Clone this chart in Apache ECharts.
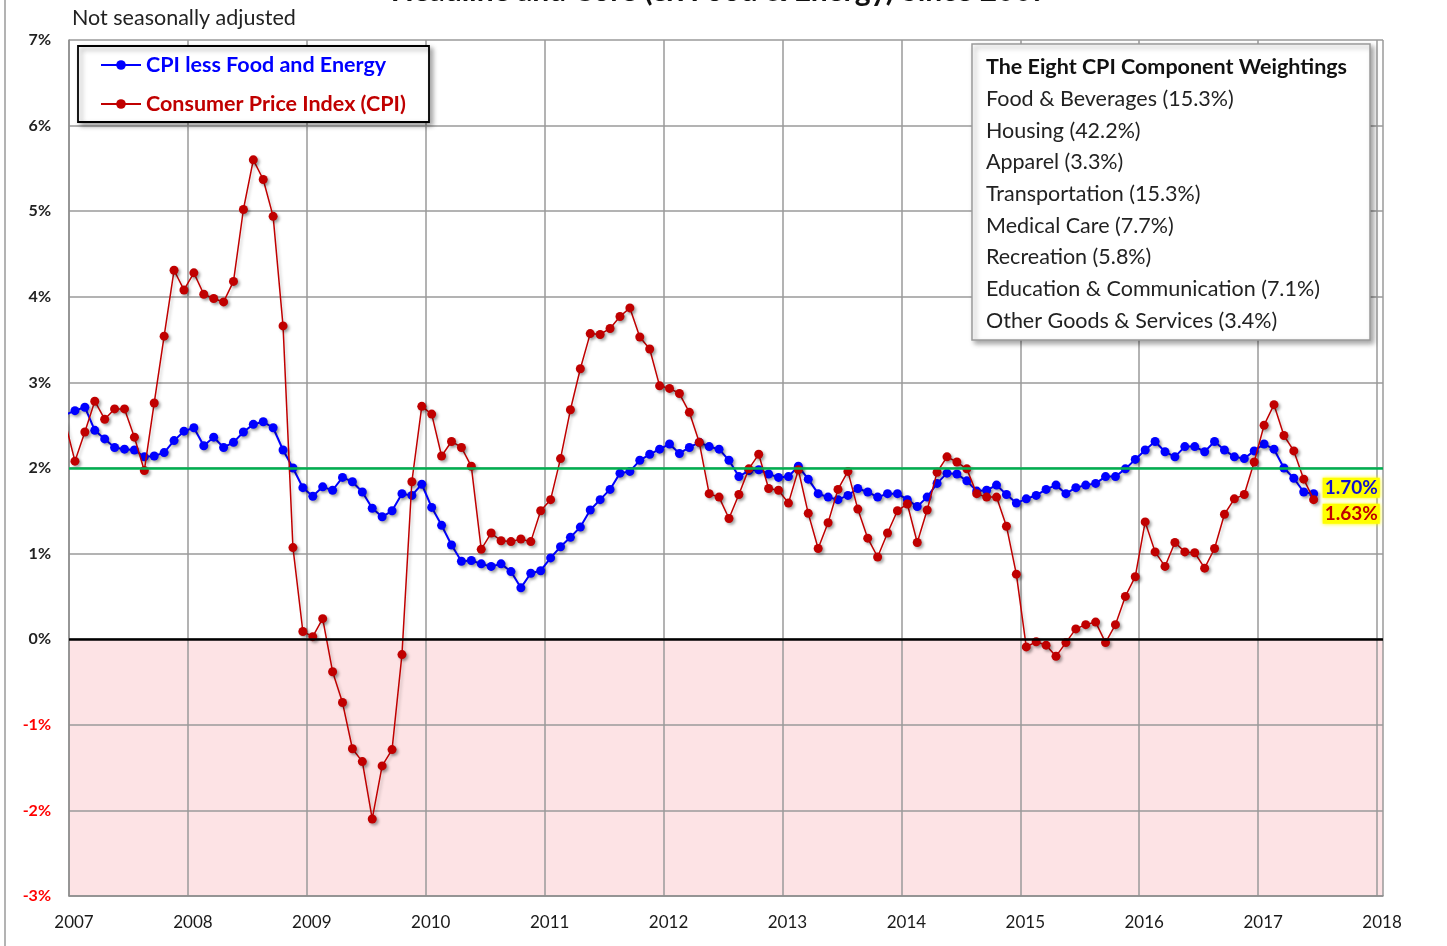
<!DOCTYPE html>
<html>
<head>
<meta charset="utf-8">
<script src="https://cdn.jsdelivr.net/npm/echarts@6/dist/echarts.min.js"></script>
<style>
html,body{margin:0;padding:0;background:#fff;}
#chart{width:1447px;height:946px;}
</style>
</head>
<body>
<div id="chart"></div>
<script>
// Monthly observations, Dec 2006 .. Jun 2017
const startYear = 2006;
const startMonth = 12; // December
const coreCPI = [
  2.62,
  2.67, 2.71, 2.44, 2.34, 2.24, 2.22, 2.21, 2.13, 2.14, 2.18, 2.32, 2.43,
  2.47, 2.26, 2.36, 2.24, 2.30, 2.42, 2.51, 2.54, 2.47, 2.21, 2.00, 1.77,
  1.67, 1.78, 1.74, 1.89, 1.84, 1.72, 1.53, 1.43, 1.50, 1.70, 1.68, 1.81,
  1.54, 1.33, 1.10, 0.91, 0.92, 0.88, 0.85, 0.88, 0.79, 0.60, 0.77, 0.80,
  0.95, 1.08, 1.19, 1.31, 1.51, 1.63, 1.75, 1.94, 1.96, 2.09, 2.16, 2.22,
  2.28, 2.17, 2.24, 2.30, 2.25, 2.22, 2.09, 1.90, 1.97, 1.98, 1.93, 1.89,
  1.90, 2.02, 1.87, 1.70, 1.66, 1.63, 1.68, 1.76, 1.72, 1.66, 1.70, 1.70,
  1.63, 1.55, 1.66, 1.82, 1.94, 1.93, 1.85, 1.73, 1.74, 1.80, 1.69, 1.59,
  1.64, 1.68, 1.75, 1.80, 1.70, 1.77, 1.80, 1.82, 1.90, 1.90, 1.99, 2.10,
  2.21, 2.31, 2.19, 2.13, 2.25, 2.25, 2.19, 2.31, 2.21, 2.13, 2.11, 2.20,
  2.28, 2.22, 2.00, 1.88, 1.72, 1.70
];
const headlineCPI = [
  2.54,
  2.08, 2.42, 2.78, 2.57, 2.69, 2.69, 2.36, 1.97, 2.76, 3.54, 4.31, 4.08,
  4.28, 4.03, 3.98, 3.94, 4.18, 5.02, 5.60, 5.37, 4.94, 3.66, 1.07, 0.09,
  0.03, 0.24, -0.38, -0.74, -1.28, -1.43, -2.10, -1.48, -1.29, -0.18, 1.84, 2.72,
  2.63, 2.14, 2.31, 2.24, 2.02, 1.05, 1.24, 1.15, 1.14, 1.17, 1.14, 1.50,
  1.63, 2.11, 2.68, 3.16, 3.57, 3.56, 3.63, 3.77, 3.87, 3.53, 3.39, 2.96,
  2.93, 2.87, 2.65, 2.30, 1.70, 1.66, 1.41, 1.69, 1.99, 2.16, 1.76, 1.74,
  1.59, 1.98, 1.47, 1.06, 1.36, 1.75, 1.96, 1.52, 1.18, 0.96, 1.24, 1.50,
  1.58, 1.13, 1.51, 1.95, 2.13, 2.07, 1.99, 1.70, 1.66, 1.66, 1.32, 0.76,
  -0.09, -0.03, -0.07, -0.20, -0.04, 0.12, 0.17, 0.20, -0.04, 0.17, 0.50, 0.73,
  1.37, 1.02, 0.85, 1.13, 1.02, 1.01, 0.83, 1.06, 1.46, 1.64, 1.69, 2.07,
  2.50, 2.74, 2.38, 2.20, 1.87, 1.63
];
const yearTicks = ['2007','2008','2009','2010','2011','2012','2013','2014','2015','2016','2017','2018'];
const weightTitle = 'The Eight CPI Component Weightings';
const weightings = [
  'Food & Beverages (15.3%)',
  'Housing (42.2%)',
  'Apparel (3.3%)',
  'Transportation (15.3%)',
  'Medical Care (7.7%)',
  'Recreation (5.8%)',
  'Education & Communication (7.1%)',
  'Other Goods & Services (3.4%)'
];
const seriesNames = ['CPI less Food and Energy', 'Consumer Price Index (CPI)'];
const targetLevel = 2;

// position of each monthly observation (decimal year)
const dates = coreCPI.map((_, i) => startYear + (startMonth - 1 + i + 0.6) / 12);
const coreData = coreCPI.map((v, i) => [dates[i], v]);
const headData = headlineCPI.map((v, i) => [dates[i], v]);

const FONT = 'Lato, "Open Sans", sans-serif';
const chart = echarts.init(document.getElementById('chart'));

const dotShadow = {shadowBlur: 3, shadowOffsetX: 2, shadowOffsetY: 2, shadowColor: 'rgba(0,0,0,0.35)'};
const lineShadow = {shadowBlur: 3, shadowOffsetX: 2, shadowOffsetY: 2, shadowColor: 'rgba(0,0,0,0.2)'};

const splitColors = [];
for (let v = -3; v < 7; v++) splitColors.push(v < 0 ? '#FDE3E5' : '#FFFFFF');

const BOX_X = 972, BOX_Y = 44;
const weightGraphics = [
  {type: 'rect', z: 10, shape: {x: BOX_X, y: BOX_Y, width: 398, height: 296},
   style: {fill: '#fff', stroke: '#9a9a9a', lineWidth: 1.5, shadowBlur: 5, shadowOffsetX: 3, shadowOffsetY: 3, shadowColor: 'rgba(0,0,0,0.35)'}},
  {type: 'text', z: 11, x: BOX_X + 14, y: BOX_Y + 23, style: {text: weightTitle, font: 'bold 21.5px ' + FONT, fill: '#111', textVerticalAlign: 'middle'}}
].concat(weightings.map((t, i) => ({
  type: 'text', z: 11, x: BOX_X + 14, y: BOX_Y + 55 + i * 31.7,
  style: {text: t, font: '21.5px ' + FONT, fill: '#222', textVerticalAlign: 'middle'}
})));

chart.setOption({
  animation: false,
  backgroundColor: '#fff',
  grid: {left: 69, right: 64, top: 40, bottom: 50, containLabel: false},
  xAxis: {
    type: 'value', min: 2007, max: 2018.05, interval: 1,
    axisLine: {show: true, onZero: false, lineStyle: {color: '#8c8c8c', width: 1.5}},
    axisTick: {show: false},
    splitLine: {show: true, lineStyle: {color: '#9a9a9a', width: 1.5}},
    axisLabel: {
      margin: 18, fontSize: 17, color: '#1a1a1a', fontFamily: FONT, padding: [0, 0, 0, 10],
      formatter: v => { const k = yearTicks.indexOf(String(Math.round(v))); return (Math.abs(v - Math.round(v)) < 1e-6 && k >= 0) ? yearTicks[k] : ''; }
    }
  },
  yAxis: {
    type: 'value', min: -3, max: 7, interval: 1,
    axisLine: {show: true, lineStyle: {color: '#8c8c8c', width: 1.5}},
    axisTick: {show: false},
    splitLine: {show: true, lineStyle: {color: '#9a9a9a', width: 1.5}},
    splitArea: {show: true, areaStyle: {color: splitColors}},
    axisLabel: {
      margin: 18, fontSize: 16, fontWeight: 'bold', fontFamily: FONT,
      color: v => (v < 0 ? '#FF0000' : '#222'),
      formatter: v => v + '%'
    }
  },
  legend: {
    orient: 'vertical', left: 100, top: 54, padding: 0, itemGap: 17,
    itemWidth: 40, itemHeight: 12, z: 20,
    data: [
      {name: seriesNames[0], textStyle: {color: '#0000FF'}},
      {name: seriesNames[1], textStyle: {color: '#C00000'}}
    ],
    textStyle: {fontSize: 21.5, fontWeight: 'bold', fontFamily: FONT, lineHeight: 21, padding: [0, 0, 0, 0]}
  },
  series: [
    {
      name: 'ref', type: 'line', data: [], z: 2, silent: true,
      markLine: {
        silent: true, symbol: 'none', label: {show: false},
        data: [
          {yAxis: targetLevel, lineStyle: {color: '#00B050', width: 2.5, type: 'solid'}},
          {yAxis: 0, lineStyle: {color: '#000', width: 2.5, type: 'solid'}}
        ]
      }
    },
    {
      name: seriesNames[0], type: 'line', data: coreData, z: 3,
      symbol: 'circle', symbolSize: 9, clip: true,
      lineStyle: Object.assign({color: '#0000FF', width: 2}, lineShadow),
      itemStyle: Object.assign({color: '#0000FF'}, dotShadow),
      endLabel: {
        show: true, distance: 9, offset: [0, -6],
        formatter: p => p.value[1].toFixed(2) + '%',
        color: '#1010D0', fontWeight: 'bold', fontSize: 19, fontFamily: FONT,
        backgroundColor: '#FFFF00', padding: [1, 2, 0, 2],
        shadowBlur: 4, shadowColor: '#FFFF00'
      }
    },
    {
      name: seriesNames[1], type: 'line', data: headData, z: 4,
      symbol: 'circle', symbolSize: 9, clip: true,
      lineStyle: Object.assign({color: '#C00000', width: 1.5}, lineShadow),
      itemStyle: Object.assign({color: '#C00000'}, dotShadow),
      endLabel: {
        show: true, distance: 9, offset: [0, 14],
        formatter: p => p.value[1].toFixed(2) + '%',
        color: '#C00000', fontWeight: 'bold', fontSize: 19, fontFamily: FONT,
        backgroundColor: '#FFFF00', padding: [1, 2, 0, 2],
        shadowBlur: 4, shadowColor: '#FFFF00'
      }
    }
  ],
  graphic: [
    {type: 'line', shape: {x1: 5, y1: 0, x2: 5, y2: 946}, style: {stroke: '#9a9a9a', lineWidth: 1.5}, z: 1},
    {type: 'text', x: 720, y: -9, style: {text: 'Headline and Core (ex Food & Energy) Since 2007', font: 'bold 30px ' + FONT, fill: '#111', textAlign: 'center', textVerticalAlign: 'middle'}, z: 10},
    {type: 'text', x: 72, y: 18, style: {text: 'Not seasonally adjusted', font: '21.5px ' + FONT, fill: '#222', textVerticalAlign: 'middle'}, z: 10},
    {type: 'rect', shape: {x: 78, y: 46, width: 351, height: 76},
     style: {fill: '#fff', stroke: '#000', lineWidth: 1.8, shadowBlur: 5, shadowOffsetX: 3, shadowOffsetY: 3, shadowColor: 'rgba(0,0,0,0.35)'}, z: 10}
  ].concat(weightGraphics)
});
</script>
</body>
</html>
